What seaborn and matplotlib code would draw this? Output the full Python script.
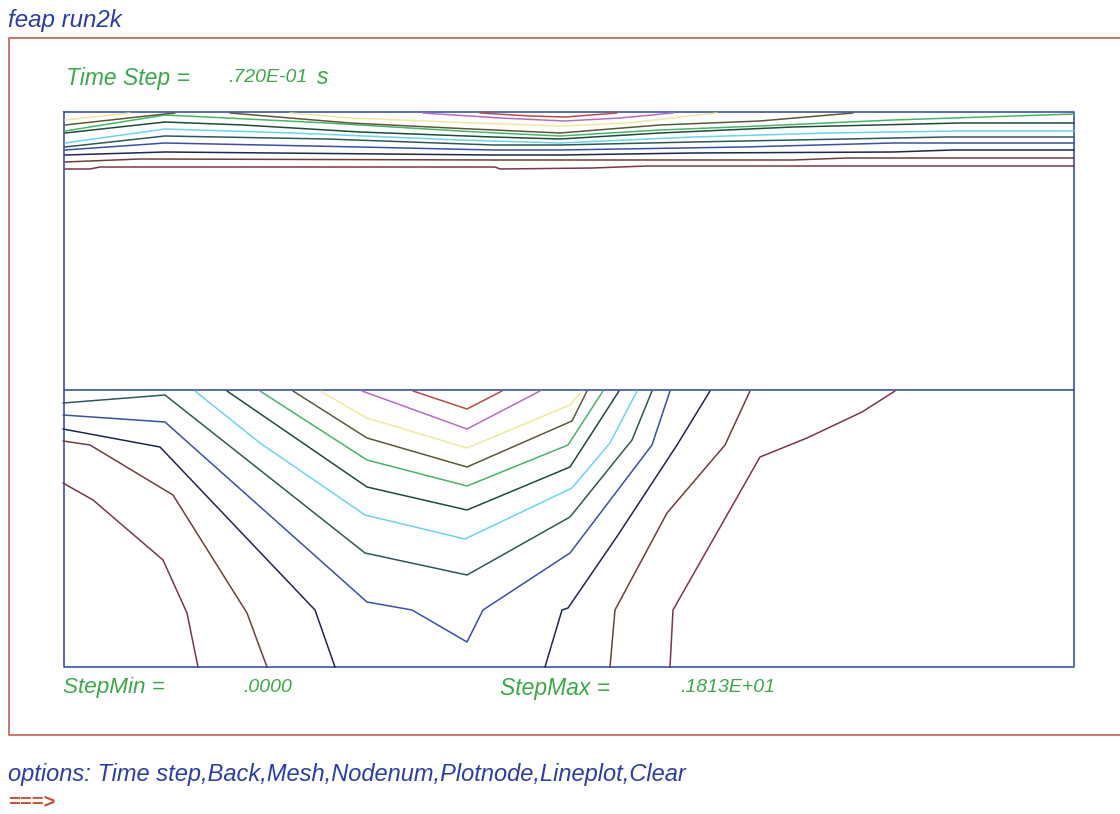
import matplotlib
matplotlib.use("Agg")
import matplotlib.pyplot as plt
import seaborn as sns
import numpy as np

sns.set_theme(style="white")
plt.rcParams['font.family'] = ['Liberation Sans', 'DejaVu Sans']

# ---------------- data ----------------
title_text = "feap run2k"
time_label = "Time Step ="
time_value = ".720E-01"
time_unit = "s"
stepmin_label = "StepMin ="
stepmin_value = ".0000"
stepmax_label = "StepMax ="
stepmax_value = ".1813E+01"
options_text = "options: Time step,Back,Mesh,Nodenum,Plotnode,Lineplot,Clear"
prompt_text = "===>"

# contour level colours, lowest level first
level_colors = ["#7a3848", "#6e4038", "#1e2850", "#3a50aa", "#2f5858", "#6cd4f0",
                "#1f4c36", "#48b468", "#5e5838", "#eeea9a", "#b86ac8", "#b4503a"]

# upper domain contour lines (x, y in sheet pixels)
up_l1 = [(65, 169), (90, 169), (100, 167), (495, 167), (500, 169), (593, 168), (647, 166), (1074, 166)]
up_l2 = [(65, 162), (140, 159), (493, 160), (560, 160), (793, 160), (847, 158), (1074, 158)]
up_l3 = [(65, 155), (165, 152), (493, 155), (560, 155), (693, 153), (893, 152), (953, 150), (1074, 150)]
up_l4 = [(65, 150), (165, 143), (360, 147), (493, 150), (560, 150), (743, 147), (893, 143), (1074, 143)]
up_l5 = [(65, 147), (165, 136), (327, 139), (493, 145), (560, 145), (693, 142), (947, 137), (1074, 137)]
up_l6 = [(65, 143), (165, 129), (293, 133), (460, 140), (560, 143), (693, 137), (827, 133), (960, 131), (1074, 131)]
up_l7 = [(65, 133), (165, 122), (243, 125), (360, 132), (493, 137), (560, 139), (660, 133), (793, 127), (960, 123), (1074, 123)]
up_l8 = [(65, 131), (165, 115), (227, 118), (327, 123), (393, 127), (477, 132), (560, 136), (660, 130), (760, 126), (893, 120), (1074, 114)]
up_l9a = [(65, 125), (165, 114), (175, 113)]
up_l9b = [(230, 113), (350, 123), (450, 128), (560, 133), (660, 125), (760, 121), (853, 113)]
up_l10a = [(65, 120), (130, 113)]
up_l10b = [(290, 113), (350, 118), (450, 122), (560, 126), (627, 123), (717, 113)]
up_l11 = [(423, 113), (500, 118), (565, 121), (620, 118), (673, 113)]
up_l12 = [(480, 113), (530, 116), (565, 117), (617, 113)]

# lower domain contour lines
lo_l1a = [(63, 483), (93, 500), (163, 560), (187, 613), (198, 667)]
lo_l1b = [(670, 667), (673, 610), (760, 457), (807, 438), (862, 412), (895, 391)]
lo_l2a = [(63, 441), (90, 445), (173, 495), (247, 613), (267, 667)]
lo_l2b = [(610, 667), (615, 610), (667, 513), (725, 445), (750, 391)]
lo_l3a = [(63, 429), (160, 447), (315, 610), (335, 667)]
lo_l3b = [(545, 667), (562, 610), (568, 608), (618, 535), (677, 445), (710, 391)]
lo_l4 = [(63, 415), (165, 422), (367, 602), (412, 610), (467, 642), (483, 610), (570, 553), (652, 445), (670, 391)]
lo_l5 = [(63, 403), (165, 395), (365, 553), (467, 575), (570, 517), (632, 440), (652, 391)]
lo_l6 = [(195, 391), (260, 443), (365, 515), (465, 539), (572, 488), (610, 443), (637, 391)]
lo_l7 = [(227, 391), (367, 487), (467, 510), (570, 467), (619, 391)]
lo_l8 = [(260, 391), (367, 460), (467, 486), (568, 445), (603, 391)]
lo_l9 = [(293, 391), (367, 438), (467, 467), (572, 421), (587, 391)]
lo_l10 = [(320, 391), (367, 418), (467, 448), (570, 405), (582, 391)]
lo_l11 = [(362, 391), (467, 429), (540, 391)]
lo_l12 = [(413, 391), (467, 409), (502, 391)]

# ---------------- drawing ----------------
W, H = 1120, 814
fig = plt.figure(figsize=(W / 100, H / 100), dpi=100)
fig.patch.set_facecolor("white")
ax = fig.add_axes([0, 0, 1, 1])
ax.set_xlim(0, W)
ax.set_ylim(H, 0)
ax.axis("off")

frame_col = "#c4604c"
box_col = "#3b4fb5"
green = "#3aaa48"
blue_txt = "#2a3eaa"

# outer frame (right edge beyond the sheet)
ax.plot([1125, 9, 9, 1125], [38, 38, 735, 735], color=frame_col, lw=1.2)

# domain boxes
ax.plot([64, 1074, 1074, 64, 64], [112, 112, 667, 667, 112], color=box_col, lw=1.2)
ax.plot([64, 1074], [390, 390], color=box_col, lw=1.2)

lines = [
    (up_l1, 0), (up_l2, 1), (up_l3, 2), (up_l4, 3), (up_l5, 4), (up_l6, 5),
    (up_l7, 6), (up_l8, 7), (up_l9a, 8), (up_l9b, 8), (up_l10a, 9), (up_l10b, 9),
    (up_l11, 10), (up_l12, 11),
    (lo_l1a, 0), (lo_l1b, 0), (lo_l2a, 1), (lo_l2b, 1), (lo_l3a, 2), (lo_l3b, 2),
    (lo_l4, 3), (lo_l5, 4), (lo_l6, 5), (lo_l7, 6), (lo_l8, 7), (lo_l9, 8),
    (lo_l10, 9), (lo_l11, 10), (lo_l12, 11),
]
for pts, lev in lines:
    xs = [p[0] for p in pts]
    ys = [p[1] for p in pts]
    sns.lineplot(x=xs, y=ys, sort=False, estimator=None, color=level_colors[lev],
                 lw=1.1, ax=ax, legend=False)

ax.set_xlim(0, W)
ax.set_ylim(H, 0)
ax.axis("off")

narrow = ['Liberation Sans Narrow', 'Liberation Sans', 'DejaVu Sans']

ax.text(8, 20, title_text, color=blue_txt, fontsize=17.4, style="italic", va="center", ha="left")
ax.text(66, 78, time_label, color=green, fontsize=16.5, style="italic", va="center", ha="left")
ax.text(228, 78, time_value, color=green, fontsize=14, style="italic", va="center", ha="left", family=narrow)
ax.text(317, 78, time_unit, color=green, fontsize=16.5, style="italic", va="center", ha="left")
ax.text(63, 688, stepmin_label, color=green, fontsize=16.2, style="italic", va="center", ha="left")
ax.text(243, 688, stepmin_value, color=green, fontsize=14, style="italic", va="center", ha="left", family=narrow)
ax.text(500, 688, stepmax_label, color=green, fontsize=16.5, style="italic", va="center", ha="left")
ax.text(680, 688, stepmax_value, color=green, fontsize=14, style="italic", va="center", ha="left", family=narrow)
ax.text(8, 775, options_text, color=blue_txt, fontsize=17.05, style="italic", va="center", ha="left")
ax.text(8, 803, prompt_text, color="#c8503a", fontsize=14.5, weight="bold", va="center", ha="left")

fig.savefig("out.png", dpi=100, facecolor="white")
